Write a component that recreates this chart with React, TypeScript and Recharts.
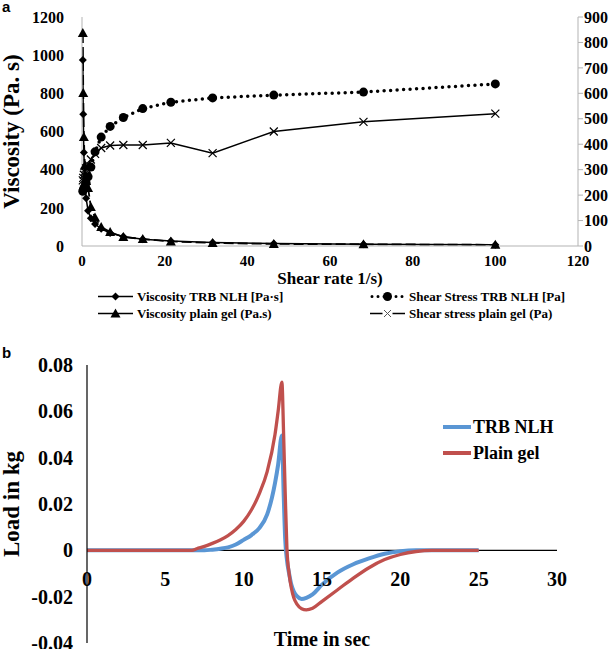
import React from 'react';
import { LineChart, Line, XAxis, YAxis, Legend, ReferenceLine } from 'recharts';

// panel a: rheology (log-spaced shear rates)
const shearRate = [0.2, 0.3, 0.45, 0.68, 1, 1.47, 2.15, 3.16, 4.64, 6.81, 10, 14.7, 21.5, 31.6, 46.4, 68.1, 100];
const viscosityTrb = [975, 690, 490, 330, 250, 185, 145, 115, 90, 68, 50, 36, 26, 18, 13, 9, 6];
const viscosityPlain = [1116, 802, 571, 420, 340, 304, 204, 150, 100, 73, 47, 37, 24, 16, 11, 9, 6];
const stressTrb = [215, 220, 226, 234, 248, 272, 310, 370, 428, 470, 505, 540, 565, 582, 593, 605, 637];
const stressPlain = [258, 268, 280, 292, 305, 320, 340, 362, 385, 395, 397, 397, 405, 365, 450, 488, 520];
const shearTicks = [0, 20, 40, 60, 80, 100, 120];
const viscosityTicks = [0, 200, 400, 600, 800, 1000, 1200];
const stressTicks = [0, 100, 200, 300, 400, 500, 600, 700, 800, 900];
const legendOrderA = ['viscTrb', 'viscPlain', 'stressTrb', 'stressPlain'];

// panel b: texture analysis
const time = [0, 1, 2, 3, 4, 5, 6, 6.7, 7, 7.5, 8, 8.5, 9, 9.5, 10, 10.5, 11, 11.5, 12, 12.2, 12.44, 12.55, 12.65, 12.76, 12.9, 13.05, 13.2, 13.4, 13.7, 14, 14.4, 15, 16, 17, 18, 19, 20, 21, 22, 23, 24, 25];
const loadTrb = [0, 0, 0, 0, 0, 0, 0, 0, 0, 0, 0.0003, 0.0007, 0.0013, 0.0025, 0.0045, 0.0066, 0.0096, 0.0155, 0.029, 0.037, 0.0496, 0.025, 0.005, -0.004, -0.01, -0.015, -0.0178, -0.0198, -0.021, -0.0205, -0.019, -0.0148, -0.0095, -0.006, -0.0035, -0.0015, -0.0004, 0, 0, 0, 0, 0];
const loadPlain = [0, 0, 0, 0, 0, 0, 0, 0, 0.0007, 0.0017, 0.003, 0.0045, 0.0064, 0.009, 0.0125, 0.0175, 0.0245, 0.034, 0.05, 0.06, 0.0726, 0.05, 0.025, 0.001, -0.01, -0.0165, -0.0205, -0.0232, -0.0252, -0.0257, -0.025, -0.022, -0.017, -0.012, -0.0075, -0.004, -0.0018, -0.0005, 0, 0, 0, 0];
const timeTicks = [0, 5, 10, 15, 20, 25, 30];
const loadTicks = [-0.04, -0.02, 0, 0.02, 0.04, 0.06, 0.08];
const legendOrderB = ['trb', 'plain'];

const rheology = shearRate.map((x, i) => ({
  x,
  viscTrb: viscosityTrb[i],
  viscPlain: viscosityPlain[i],
  stressTrb: stressTrb[i],
  stressPlain: stressPlain[i],
}));

const texture = time.map((t, i) => ({ t, trb: loadTrb[i], plain: loadPlain[i] }));

const serif = '"Liberation Serif", "Times New Roman", serif';
const gray = '#b3b3b3';
const blue = '#5a96d4';
const red = '#c0504d';

const tickA = { fill: '#000', fontSize: 16, fontWeight: 700, fontFamily: serif };
const tickB = { fill: '#000', fontSize: 20, fontWeight: 700, fontFamily: serif };

// markers
function diamond(p: any) {
  if (p.cx == null || p.cy == null) return null;
  const { cx, cy } = p;
  return <path key={`dm-${p.index}`} d={`M${cx},${cy - 4}L${cx + 4},${cy}L${cx},${cy + 4}L${cx - 4},${cy}Z`} fill="#000" />;
}
function triangle(p: any) {
  if (p.cx == null || p.cy == null) return null;
  const { cx, cy } = p;
  return <path key={`tr-${p.index}`} d={`M${cx},${cy - 5}L${cx + 5},${cy + 4}L${cx - 5},${cy + 4}Z`} fill="#000" />;
}
function circle(p: any) {
  if (p.cx == null || p.cy == null) return null;
  return <circle key={`ci-${p.index}`} cx={p.cx} cy={p.cy} r={4.5} fill="#000" />;
}
function cross(p: any) {
  if (p.cx == null || p.cy == null) return null;
  const { cx, cy } = p;
  return (
    <path key={`cr-${p.index}`} d={`M${cx - 4},${cy - 4}L${cx + 4},${cy + 4}M${cx - 4},${cy + 4}L${cx + 4},${cy - 4}`} stroke="#000" strokeWidth={1.2} fill="none" />
  );
}

const iconA: Record<string, (w: number) => React.ReactNode> = {
  viscTrb: (w) => (
    <>
      <line x1={0} x2={w} y1={8.5} y2={8.5} stroke="#000" strokeWidth={1.5} />
      {diamond({ cx: w / 2, cy: 8.5, index: 0 })}
    </>
  ),
  viscPlain: (w) => (
    <>
      <line x1={0} x2={w} y1={8.5} y2={8.5} stroke="#000" strokeWidth={1.5} />
      {triangle({ cx: w / 2, cy: 8.5, index: 0 })}
    </>
  ),
  stressTrb: (w) => (
    <>
      <line x1={2} x2={w} y1={8.5} y2={8.5} stroke="#000" strokeWidth={3} strokeDasharray="0 6" strokeLinecap="round" />
      {circle({ cx: w / 2, cy: 8.5, index: 0 })}
    </>
  ),
  stressPlain: (w) => (
    <>
      <line x1={0} x2={w} y1={8.5} y2={8.5} stroke="#000" strokeWidth={1.5} />
      <rect x={w / 2 - 5} y={3} width={10} height={11} fill="#fff" />
      <path d={`M${w / 2 - 3.5},${5}L${w / 2 + 3.5},${12}M${w / 2 - 3.5},${12}L${w / 2 + 3.5},${5}`} stroke="#555" strokeWidth={1} />
    </>
  ),
};

const byOrder = (order: string[]) => (a: any, b: any) => order.indexOf(a.dataKey) - order.indexOf(b.dataKey);

function LegendA({ payload }: any) {
  const items = [...(payload || [])].sort(byOrder(legendOrderA));
  return (
    <div
      style={{
        display: 'grid',
        gridTemplateColumns: '272px 240px',
        gridTemplateRows: '17px 17px',
        gridAutoFlow: 'column',
        fontFamily: serif,
        fontWeight: 700,
        fontSize: 13,
      }}
    >
      {items.map((item: any) => (
        <div key={item.dataKey} style={{ display: 'flex', alignItems: 'center', height: 17 }}>
          <svg width={35} height={17}>{iconA[item.dataKey](35)}</svg>
          <span style={{ marginLeft: 4, whiteSpace: 'nowrap' }}>{item.value}</span>
        </div>
      ))}
    </div>
  );
}

function LegendB({ payload }: any) {
  const items = [...(payload || [])].sort(byOrder(legendOrderB));
  return (
    <div style={{ fontFamily: serif, fontWeight: 700, fontSize: 18 }}>
      {items.map((item: any) => (
        <div key={item.dataKey} style={{ display: 'flex', alignItems: 'center', height: 26 }}>
          <svg width={28} height={26}>
            <line x1={0} x2={28} y1={13} y2={13} stroke={item.color} strokeWidth={4} />
          </svg>
          <span style={{ marginLeft: 2, whiteSpace: 'nowrap' }}>{item.value}</span>
        </div>
      ))}
    </div>
  );
}

function TimeTick({ x, y, payload }: any) {
  return (
    <text x={x} y={y - 59} textAnchor="middle" {...tickB}>
      {payload.value}
    </text>
  );
}

const panelLetter: React.CSSProperties = {
  position: 'absolute',
  left: 2,
  fontFamily: 'Arial, "Liberation Sans", sans-serif',
  fontWeight: 700,
  fontSize: 15,
  lineHeight: '15px',
};

export default function App() {
  return (
    <div style={{ position: 'absolute', left: 0, top: 0, width: 614, height: 649, background: '#fff', overflow: 'hidden' }}>
      <div style={{ ...panelLetter, top: -1 }}>a</div>
      <div style={{ position: 'absolute', left: 0, top: 0 }}>
        <LineChart width={614} height={330} data={rheology} margin={{ top: 17, right: 0, left: 0, bottom: 40 }}>
          <XAxis
            dataKey="x"
            type="number"
            domain={[0, 120]}
            ticks={shearTicks}
            interval={0}
            axisLine={{ stroke: gray }}
            tickLine={false}
            tickSize={0}
            tickMargin={9}
            height={44}
            tick={{ ...tickA, fontSize: 15 }}
            label={{
              value: 'Shear rate 1/s)',
              position: 'insideBottom',
              offset: 6,
              style: { fill: '#000', fontSize: 17, fontWeight: 700, fontFamily: serif },
            }}
          />
          <YAxis
            yAxisId="left"
            domain={[0, 1200]}
            ticks={viscosityTicks}
            interval={0}
            width={82}
            axisLine={{ stroke: gray }}
            tickLine={false}
            tickSize={0}
            tickMargin={18}
            tick={tickA}
            label={{
              value: 'Viscosity (Pa. s)',
              angle: -90,
              position: 'insideLeft',
              offset: 11,
              style: { textAnchor: 'middle', fill: '#000', fontSize: 23, fontWeight: 700, fontFamily: serif },
            }}
          />
          <YAxis
            yAxisId="right"
            orientation="right"
            domain={[0, 900]}
            ticks={stressTicks}
            interval={0}
            width={36}
            axisLine={{ stroke: gray }}
            tickLine={{ stroke: gray }}
            tickSize={5}
            tickMargin={1}
            tick={tickA}
          />
          <Legend
            layout="horizontal"
            verticalAlign="middle"
            align="center"
            wrapperStyle={{ top: 288, left: 98, width: 520 }}
            content={<LegendA />}
          />
          <Line yAxisId="left" dataKey="viscTrb" name="Viscosity TRB NLH [Pa·s]" stroke="#000" strokeWidth={1.5} dot={diamond} isAnimationActive={false} />
          <Line yAxisId="left" dataKey="viscPlain" name="Viscosity plain gel (Pa.s)" stroke="#000" strokeWidth={1.8} strokeDasharray="10 4" dot={triangle} isAnimationActive={false} />
          <Line yAxisId="right" dataKey="stressTrb" name="Shear Stress TRB NLH [Pa]" stroke="#000" strokeWidth={3.5} strokeDasharray="0 6.5" strokeLinecap="round" dot={circle} isAnimationActive={false} />
          <Line yAxisId="right" dataKey="stressPlain" name="Shear stress plain gel (Pa)" stroke="#000" strokeWidth={1.5} dot={cross} isAnimationActive={false} />
        </LineChart>
      </div>

      <div style={{ ...panelLetter, top: 345 }}>b</div>
      <div style={{ position: 'absolute', left: 0, top: 330 }}>
        <LineChart width={614} height={319} data={texture} margin={{ top: 35, right: 57, left: 0, bottom: 0 }}>
          <XAxis
            dataKey="t"
            type="number"
            domain={[0, 30]}
            ticks={timeTicks}
            interval={0}
            axisLine={false}
            tickLine={false}
            tickSize={0}
            height={6}
            tick={<TimeTick />}
            label={{
              value: 'Time in sec',
              position: 'insideBottom',
              offset: 3,
              style: { fill: '#000', fontSize: 20, fontWeight: 700, fontFamily: serif },
            }}
          />
          <YAxis
            domain={[-0.04, 0.08]}
            ticks={loadTicks}
            interval={0}
            width={87}
            axisLine={{ stroke: '#000', strokeWidth: 1.2 }}
            tickLine={false}
            tickSize={0}
            tickMargin={14}
            tick={tickB}
            tickFormatter={(v: number) => (v === 0 ? '0' : v.toFixed(2))}
            label={{
              value: 'Load in kg',
              angle: -90,
              position: 'insideLeft',
              offset: 11,
              style: { textAnchor: 'middle', fill: '#000', fontSize: 23, fontWeight: 700, fontFamily: serif },
            }}
          />
          <ReferenceLine y={0} stroke="#000" strokeWidth={1.3} />
          <Legend
            layout="horizontal"
            verticalAlign="middle"
            align="center"
            wrapperStyle={{ top: 84, left: 443, width: 160 }}
            content={<LegendB />}
          />
          <Line dataKey="trb" name="TRB NLH" stroke={blue} strokeWidth={4} dot={false} type="monotone" isAnimationActive={false} />
          <Line dataKey="plain" name="Plain gel" stroke={red} strokeWidth={3.3} dot={false} type="monotone" isAnimationActive={false} />
        </LineChart>
      </div>
    </div>
  );
}
